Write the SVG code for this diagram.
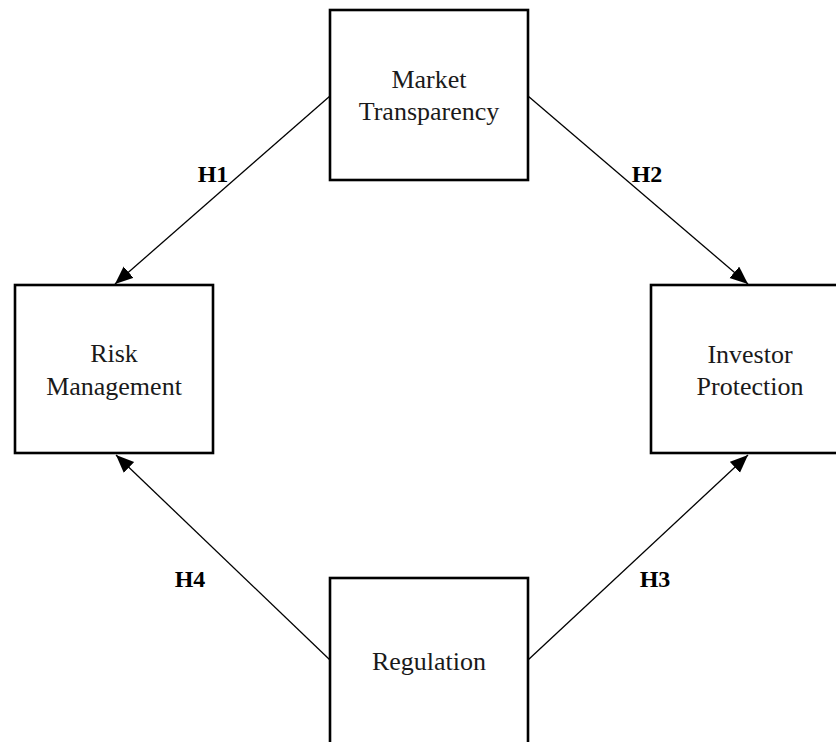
<svg xmlns="http://www.w3.org/2000/svg" width="836" height="742" viewBox="0 0 836 742">
<defs>
<style>
.box{fill:#fff;stroke:#000;stroke-width:2.6}
.lbl{font-family:"Liberation Serif","DejaVu Serif",serif;font-size:26px;fill:#1a1a1a;text-anchor:middle}
.h{font-family:"Liberation Serif","DejaVu Serif",serif;font-size:24px;font-weight:bold;fill:#000;text-anchor:middle}
.edge{stroke:#000;stroke-width:1.3;fill:none;marker-end:url(#arr)}
</style>
<marker id="arr" markerUnits="userSpaceOnUse" markerWidth="20" markerHeight="16" refX="18" refY="7.5" orient="auto">
<path d="M0,0 L18,7.5 L0,15 Z" fill="#000"/>
</marker>
</defs>
<rect width="836" height="742" fill="#fff"/>
<g id="connectors">
<line class="edge" x1="330" y1="96" x2="115" y2="284"/>
<line class="edge" x1="528" y1="96" x2="748" y2="284"/>
<line class="edge" x1="528" y1="660" x2="748" y2="455"/>
<line class="edge" x1="330" y1="660" x2="116" y2="455"/>
</g>
<g id="node-market">
<rect class="box" x="330" y="10" width="198" height="170"/>
<text class="lbl" x="429" y="88">Market</text>
<text class="lbl" x="429" y="120">Transparency</text>
</g>
<g id="node-risk">
<rect class="box" x="15" y="285" width="198" height="168"/>
<text class="lbl" x="114" y="362">Risk</text>
<text class="lbl" x="114" y="395">Management</text>
</g>
<g id="node-investor">
<rect class="box" x="651" y="285" width="198" height="168"/>
<text class="lbl" x="750" y="363">Investor</text>
<text class="lbl" x="750" y="395">Protection</text>
</g>
<g id="node-regulation">
<rect class="box" x="330" y="578" width="198" height="170"/>
<text class="lbl" x="429" y="670">Regulation</text>
</g>
<g id="labels">
<text class="h" x="213" y="182">H1</text>
<text class="h" x="647" y="182">H2</text>
<text class="h" x="655" y="587">H3</text>
<text class="h" x="190" y="587">H4</text>
</g>
</svg>
